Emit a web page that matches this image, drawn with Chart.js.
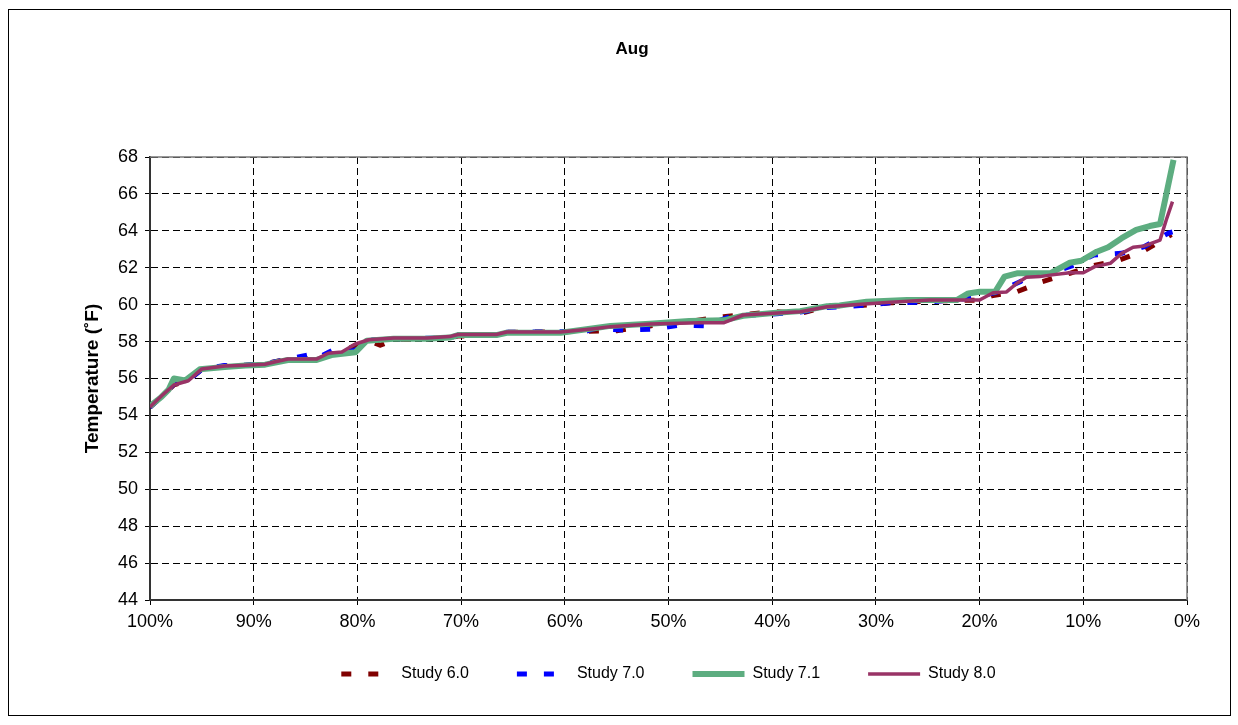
<!DOCTYPE html>
<html><head><meta charset="utf-8">
<script src="https://cdn.jsdelivr.net/npm/chart.js@4/dist/chart.umd.min.js"></script>
<style>
html,body{margin:0;padding:0;background:#fff;}
#frame{position:absolute;left:8px;top:9px;width:1223px;height:707px;border:1px solid #000;box-sizing:border-box;}
#wrap{position:absolute;left:9px;top:10px;width:1220px;height:704px;}
</style></head><body>
<div id="frame"></div>
<div id="wrap"><canvas id="c"></canvas></div>
<script>
// X tick labels (percent of time exceeded), Y range
const xTicks = [100, 90, 80, 70, 60, 50, 40, 30, 20, 10, 0];
const yTicks = [44, 46, 48, 50, 52, 54, 56, 58, 60, 62, 64, 66, 68];
const seriesNames = ['Study 6.0', 'Study 7.0', 'Study 7.1', 'Study 8.0'];

// Study 6.0
const pct60 = [100, 98.9, 97.7, 96.3, 95.0, 92.8, 90.8, 88.9, 86.7, 83.9, 82.8, 81.5, 80.2, 78.9, 77.8, 76.5, 71.1, 70.3, 66.6, 65.6, 58.0, 55.0, 51.8, 47.7, 44.7, 42.1, 39.6, 37.3, 34.4, 31.5, 28.6, 24.8, 20.0, 18.7, 16.4, 14.0, 11.3, 9.0, 6.5, 4.2, 1.5];
const t60   = [54.45, 55.0, 55.65, 55.9, 56.5, 56.68, 56.72, 56.8, 57.05, 57.06, 57.3, 57.45, 57.8, 58.05, 57.8, 58.1, 58.2, 58.3, 58.35, 58.5, 58.55, 58.59, 58.85, 59.12, 59.35, 59.5, 59.62, 59.53, 59.94, 59.95, 60.1, 60.2, 60.25, 60.5, 60.7, 61.24, 61.7, 62.12, 62.42, 62.9, 63.8];

// Study 7.0
const pct70 = [100, 98.9, 97.7, 96.3, 95.0, 92.8, 90.8, 88.9, 86.7, 84.8, 83.9, 82.3, 81.5, 80.5, 79.6, 78.9, 76.5, 71.1, 70.3, 66.6, 65.6, 58.0, 57.2, 54.2, 51.5, 48.9, 46.5, 43.9, 39.9, 37.3, 34.7, 31.5, 28.6, 24.8, 20.8, 18.2, 16.1, 15.5, 13.2, 11.1, 9.0, 6.3, 4.1, 1.8, 1.4];
const t70   = [54.45, 55.0, 55.7, 55.9, 56.5, 56.7, 56.72, 56.8, 57.05, 57.27, 57.1, 57.55, 57.45, 57.5, 57.65, 58.08, 58.15, 58.2, 58.35, 58.38, 58.5, 58.55, 58.7, 58.63, 58.67, 58.9, 58.85, 59.39, 59.5, 59.6, 59.85, 59.95, 60.1, 60.15, 60.35, 60.7, 61.24, 61.45, 61.7, 62.1, 62.69, 62.78, 63.15, 63.87, 63.94];

// Study 7.1
const pct71 = [100, 98.9, 98.2, 97.7, 96.6, 95.2, 92.8, 90.8, 88.9, 86.7, 84.0, 82.5, 80.2, 79.1, 76.5, 73.3, 71.1, 70.3, 66.6, 65.6, 60.4, 57.2, 55.6, 51.8, 48.0, 44.7, 42.8, 39.9, 37.3, 34.7, 33.5, 30.9, 27.0, 22.2, 21.1, 20.0, 18.5, 17.6, 16.4, 13.2, 11.3, 10.2, 8.7, 7.6, 6.3, 4.9, 3.6, 2.6, 1.3];
const t71   = [54.5, 55.0, 55.4, 56.0, 55.9, 56.5, 56.62, 56.7, 56.75, 57.0, 57.0, 57.27, 57.42, 58.05, 58.15, 58.15, 58.22, 58.35, 58.35, 58.48, 58.48, 58.72, 58.85, 58.97, 59.12, 59.15, 59.4, 59.55, 59.65, 59.92, 59.95, 60.16, 60.25, 60.25, 60.61, 60.7, 60.7, 61.52, 61.7, 61.7, 62.27, 62.38, 62.87, 63.11, 63.6, 64.05, 64.26, 64.37, 67.84];

// Study 8.0
const pct80 = [100, 98.9, 97.7, 96.3, 95.0, 92.8, 90.8, 88.9, 87.9, 86.7, 83.9, 82.8, 81.5, 80.2, 78.9, 76.5, 73.3, 71.1, 70.3, 66.6, 65.6, 60.4, 57.2, 55.6, 51.8, 47.0, 44.7, 42.8, 39.9, 37.3, 34.7, 32.5, 28.6, 24.8, 20.0, 18.7, 17.4, 16.4, 15.5, 14.2, 13.2, 11.3, 10.0, 8.9, 7.4, 6.3, 5.2, 4.1, 2.6, 2.0, 1.4];
const t80   = [54.46, 55.05, 55.65, 55.88, 56.52, 56.68, 56.72, 56.77, 56.91, 57.06, 57.06, 57.37, 57.44, 57.87, 58.1, 58.2, 58.2, 58.27, 58.38, 58.38, 58.52, 58.52, 58.7, 58.81, 58.95, 59.02, 59.02, 59.44, 59.53, 59.62, 59.89, 59.98, 60.13, 60.25, 60.25, 60.65, 60.69, 61.16, 61.48, 61.52, 61.6, 61.73, 61.73, 62.06, 62.24, 62.78, 63.11, 63.18, 63.5, 64.59, 65.58];

const pts = (xs, ys) => xs.map((x, i) => ({x: x, y: ys[i]}));
const FONT = "'Liberation Sans', Arial, sans-serif";

const frameBorder = {
  id: 'frameBorder',
  afterLayout(chart) {
    // lift the legend row closer to the axis labels
    const lg = chart.legend;
    if (lg) { lg.top -= 15; lg.bottom -= 15; }
  },
  beforeDatasetsDraw(chart) {
    const {ctx, chartArea: a} = chart;
    ctx.save();
    ctx.strokeStyle = '#7a7a7a';
    ctx.lineWidth = 1.5;
    ctx.setLineDash([]);
    ctx.beginPath();
    ctx.moveTo(a.left, a.top);
    ctx.lineTo(a.right, a.top);
    ctx.lineTo(a.right, a.bottom);
    ctx.stroke();
    ctx.restore();
  }
};

new Chart(document.getElementById('c'), {
  type: 'line',
  data: {
    datasets: [
      {label: seriesNames[0], order: 4, data: pts(pct60, t60), borderColor: '#800000', backgroundColor: '#800000', borderWidth: 5, borderDash: [10, 17], borderCapStyle: 'butt'},
      {label: seriesNames[1], order: 3, data: pts(pct70, t70), borderColor: '#0000FF', backgroundColor: '#0000FF', borderWidth: 5, borderDash: [10, 17], borderCapStyle: 'butt'},
      {label: seriesNames[2], order: 2, data: pts(pct71, t71), borderColor: '#5DAD80', backgroundColor: '#5DAD80', borderWidth: 6},
      {label: seriesNames[3], order: 1, data: pts(pct80, t80), borderColor: '#993366', backgroundColor: '#993366', borderWidth: 3.5}
    ]
  },
  options: {
    responsive: true,
    maintainAspectRatio: false,
    animation: false,
    elements: {point: {radius: 0, hoverRadius: 0}, line: {tension: 0, borderJoinStyle: 'round'}},
    layout: {padding: {left: 68, right: 42, top: 0, bottom: 7}},
    plugins: {
      tooltip: {enabled: false},
      title: {display: true, text: 'Aug', color: '#000', font: {family: FONT, size: 17, weight: 'bold'}, padding: {top: 29, bottom: 97.6}},
      legend: {
        position: 'bottom',
        fullSize: false,
        labels: {
          usePointStyle: true,
          pointStyleWidth: 52,
          padding: 48,
          color: '#000',
          font: {family: FONT, size: 16},
          generateLabels: (chart) => chart.data.datasets.map((ds, i) => ({
            text: ds.label,
            fillStyle: ds.borderColor,
            strokeStyle: ds.borderColor,
            lineWidth: ds.borderWidth,
            lineDash: ds.borderDash || [],
            lineCap: 'butt',
            pointStyle: 'line',
            hidden: false,
            datasetIndex: i,
            fontColor: '#000'
          }))
        }
      }
    },
    scales: {
      x: {
        type: 'linear',
        reverse: true,
        min: 0, max: 100,
        afterBuildTicks: (s) => { s.ticks = xTicks.map(v => ({value: v})); },
        afterFit: (s) => { s.height = 33; s.paddingLeft = 0; s.paddingRight = 0; },
        ticks: {color: '#000', font: {family: FONT, size: 18}, padding: 6, maxRotation: 0, autoSkip: false, callback: (v) => v + '%'},
        grid: {color: '#000', lineWidth: 1, tickLength: 5, tickColor: '#000', tickBorderDash: []},
        border: {display: true, color: '#333', width: 2, dash: [7, 4]}
      },
      y: {
        min: 44, max: 68,
        afterBuildTicks: (s) => { s.ticks = yTicks.map(v => ({value: v})); },
        afterFit: (s) => { s.width = 73; s.paddingTop = 0; s.paddingBottom = 0; },
        ticks: {color: '#000', font: {family: FONT, size: 18}, padding: 7, autoSkip: false},
        grid: {color: '#000', lineWidth: 1, tickLength: 5, tickColor: '#000', tickBorderDash: []},
        border: {display: true, color: '#333', width: 2, dash: [7, 4]},
        title: {display: true, text: 'Temperature (˚F)', color: '#000', font: {family: FONT, size: 19, weight: 'bold'}, padding: {top: 4, bottom: 0}}
      }
    }
  },
  plugins: [frameBorder]
});
</script>
</body></html>
